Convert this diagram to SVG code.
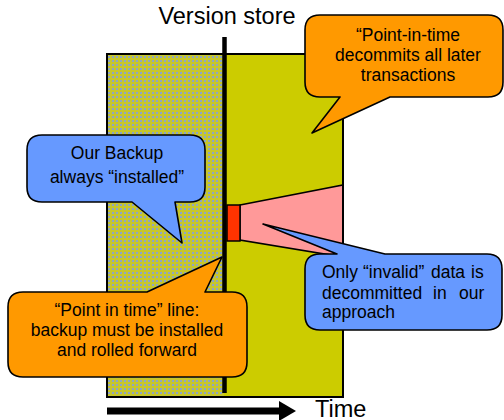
<svg xmlns="http://www.w3.org/2000/svg" width="504" height="420" viewBox="0 0 504 420">
  <style>
    text { font-family: "Liberation Sans", Arial, sans-serif; fill: #000; }
    .big { font-size: 23.5px; }
    .lbl { font-size: 17.5px; }
    .mid { text-anchor: middle; }
    .callout { stroke: #000; stroke-width: 1.6; stroke-linejoin: round; }
    .orange { fill: #FF9900; }
    .blue { fill: #6699FF; }
  </style>
  <defs>
    <pattern id="hatch" width="4" height="4" patternUnits="userSpaceOnUse">
      <rect width="4" height="4" fill="#C6C62C"/>
      <rect x="0" y="0" width="2" height="2" fill="#8EA6C4"/>
    </pattern>
  </defs>

  <g id="version-store">
    <rect x="107" y="54" width="117" height="343" fill="url(#hatch)"/>
    <rect x="224" y="54" width="119" height="343" fill="#CCCC00"/>
    <polygon points="240,205 343,185 343,257 240,240" fill="#FF9999" stroke="#000" stroke-width="1.5"/>
    <rect x="107" y="54" width="236" height="343" fill="none" stroke="#000" stroke-width="2"/>
    <rect x="227" y="205" width="13" height="36" fill="#FF3300" stroke="#000" stroke-width="1.5"/>
    <text class="big mid" x="227" y="24">Version store</text>
  </g>

  <g id="connectors">
    <line x1="224.5" y1="37" x2="224.5" y2="393" stroke="#000" stroke-width="4.5"/>
    <line x1="107" y1="411" x2="282" y2="411" stroke="#000" stroke-width="7"/>
    <polygon points="279,401 296,411 279,421" fill="#000"/>
  </g>

  <g id="time-label">
    <text class="big" x="315" y="417">Time</text>
  </g>

  <g id="callout-pit-decommit">
    <path class="callout orange" d="M 320,15 H 488 Q 503,15 503,30 V 82 Q 503,97 488,97 H 390 L 312,133 L 340,97 H 320 Q 305,97 305,82 V 30 Q 305,15 320,15 Z"/>
    <text class="lbl mid" x="408" y="41">“Point-in-time</text>
    <text class="lbl mid" x="408" y="61">decommits all later</text>
    <text class="lbl mid" x="408" y="81">transactions</text>
  </g>

  <g id="callout-backup">
    <path class="callout blue" d="M 42,135 H 190 Q 205,135 205,150 V 187 Q 205,202 190,202 H 175 L 182,243 L 132,202 H 42 Q 27,202 27,187 V 150 Q 27,135 42,135 Z"/>
    <text class="lbl mid" x="117" y="159">Our Backup</text>
    <text class="lbl mid" x="117" y="183">always “installed”</text>
  </g>

  <g id="callout-pit-line">
    <path class="callout orange" d="M 23,292 H 147 L 222,257 L 205,292 H 232 Q 247,292 247,307 V 362 Q 247,377 232,377 H 23 Q 8,377 8,362 V 307 Q 8,292 23,292 Z"/>
    <text class="lbl mid" x="127" y="316">“Point in time” line:</text>
    <text class="lbl mid" x="127" y="336">backup must be installed</text>
    <text class="lbl mid" x="127" y="356">and rolled forward</text>
  </g>

  <g id="callout-invalid">
    <path class="callout blue" d="M 320,254 H 337 L 263,224 L 385,254 H 487 Q 502,254 502,269 V 315 Q 502,330 487,330 H 320 Q 305,330 305,315 V 269 Q 305,254 320,254 Z"/>
    <text class="lbl" y="278"><tspan x="322">Only</tspan><tspan x="363">“invalid”</tspan><tspan x="431">data</tspan><tspan x="471">is</tspan></text>
    <text class="lbl" y="299"><tspan x="322">decommitted</tspan><tspan x="433">in</tspan><tspan x="459">our</tspan></text>
    <text class="lbl" x="322" y="318">approach</text>
  </g>
</svg>
